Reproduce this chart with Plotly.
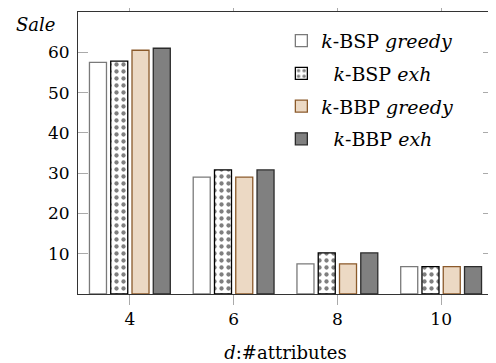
import plotly.graph_objects as go

categories = ["4", "6", "8", "10"]
bsp_greedy = [57.5, 29.0, 7.5, 6.8]
bsp_exh = [57.8, 30.8, 10.2, 6.8]
bbp_greedy = [60.5, 29.0, 7.5, 6.8]
bbp_exh = [61.0, 30.8, 10.2, 6.8]
y_ticks = [10, 20, 30, 40, 50, 60]

FONT = "DejaVu Serif"

fig = go.Figure()
fig.add_bar(x=categories, y=bsp_greedy, name="<i>k</i>-BSP <i>greedy</i>",
            marker=dict(color="white", line=dict(color="#7a7a7a", width=1.3)),
            legendgroup="a")
fig.add_bar(x=categories, y=bsp_exh, name="  <i>k</i>-BSP <i>exh</i>",
            marker=dict(color="white", line=dict(color="black", width=1.3),
                        pattern=dict(shape=".", fgcolor="black", bgcolor="white",
                                     size=7, solidity=0.3)),
            legendgroup="b")
fig.add_bar(x=categories, y=bbp_greedy, name="<i>k</i>-BBP <i>greedy</i>",
            marker=dict(color="#ecd9c4", line=dict(color="#8b5a2b", width=1.3)),
            legendgroup="c")
fig.add_bar(x=categories, y=bbp_exh, name="  <i>k</i>-BBP <i>exh</i>",
            marker=dict(color="#808080", line=dict(color="#2b2b2b", width=1.3)),
            legendgroup="d")

fig.update_layout(
    width=488, height=355,
    margin=dict(l=70, r=3, t=4, b=69, autoexpand=False),
    plot_bgcolor="white", paper_bgcolor="white",
    font=dict(family=FONT, size=17, color="black"),
    barmode="group", bargap=0.18, bargroupgap=0.2,
    showlegend=True,
    legend=dict(x=0.49, y=0.965, xanchor="left", yanchor="top",
                bgcolor="rgba(0,0,0,0)", font=dict(family=FONT, size=19),
                tracegroupgap=5, itemwidth=30),
    xaxis=dict(range=[-0.5, 3.5], showline=True, linecolor="#333", linewidth=1,
               mirror="ticks", ticks="outside", ticklen=10, tickcolor="#aaa",
               tickwidth=1, automargin=False,
               title=dict(text="<i>d</i>:#attributes", standoff=17,
                          font=dict(family=FONT, size=18))),
    yaxis=dict(range=[0, 70], tickvals=y_ticks, showline=True, linecolor="#333",
               linewidth=1, mirror="ticks", ticks="inside", ticklen=10,
               tickcolor="#aaa", tickwidth=1, showgrid=False, zeroline=False,
               automargin=False, ticklabelstandoff=4),
    annotations=[dict(text="<i>Sale</i>", xref="paper", yref="paper",
                      x=-0.05, y=0.955, xanchor="right", yanchor="middle",
                      showarrow=False, font=dict(family=FONT, size=18))],
)

fig.write_html("out.html")
